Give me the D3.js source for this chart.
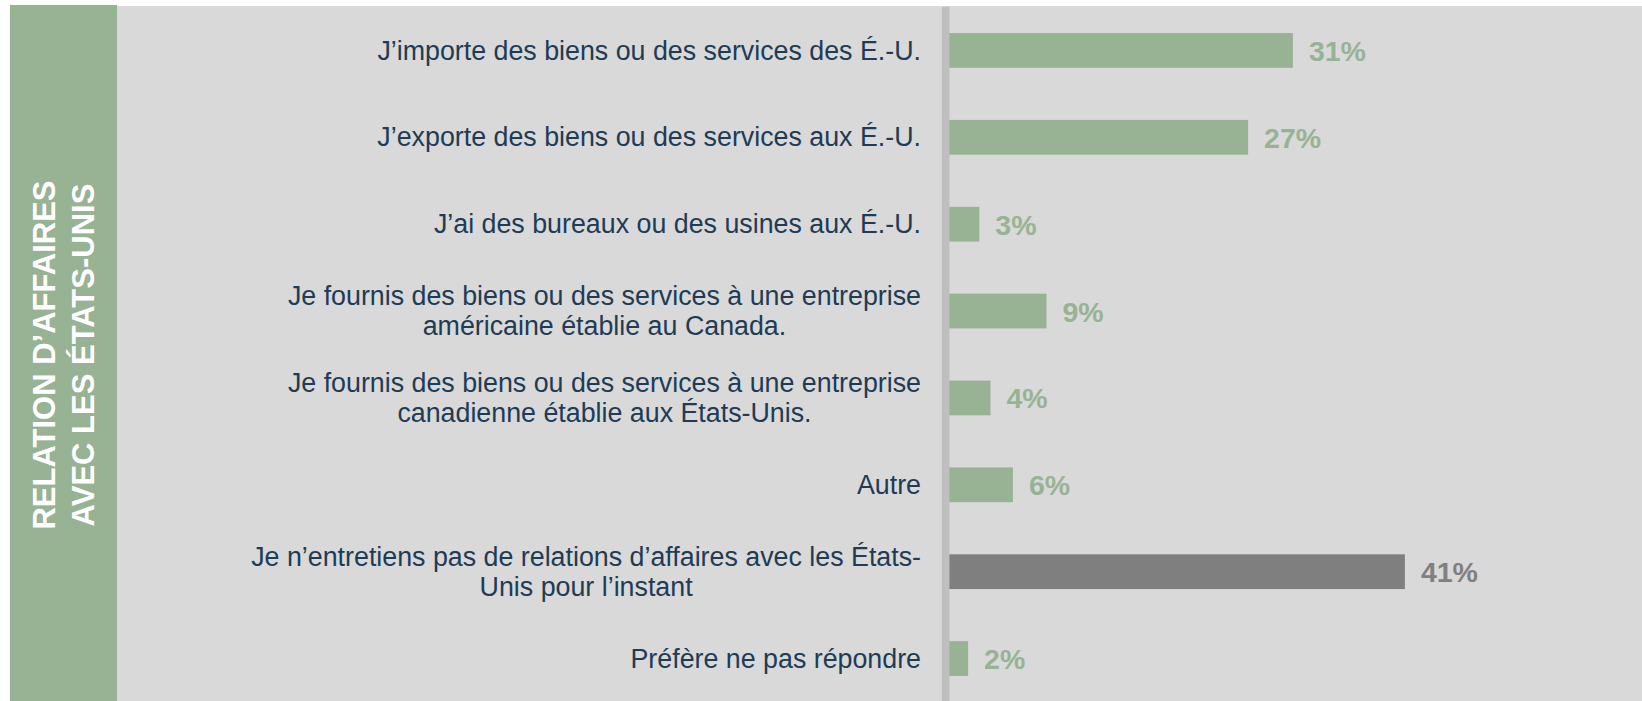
<!DOCTYPE html>
<html lang="fr">
<head>
<meta charset="utf-8">
<script src="https://cdn.jsdelivr.net/npm/d3@7"></script>
<style>
  html, body { margin: 0; padding: 0; background: #fff; }
  svg { display: block; }
</style>
</head>
<body>
<div id="chart"></div>
<script>
(() => {
  const width = 1642;
  const height = 701;

  // catégories (les retours à la ligne suivent l'original)
  const categories = [
    ["J’importe des biens ou des services des É.-U."],
    ["J’exporte des biens ou des services aux É.-U."],
    ["J’ai des bureaux ou des usines aux É.-U."],
    ["Je fournis des biens ou des services à une entreprise", "américaine établie au Canada."],
    ["Je fournis des biens ou des services à une entreprise", "canadienne établie aux États-Unis."],
    ["Autre"],
    ["Je n’entretiens pas de relations d’affaires avec les États-", "Unis pour l’instant"],
    ["Préfère ne pas répondre"]
  ];
  const values = [31, 27, 3, 9, 4, 6, 41, 2];
  const groups = ["oui", "oui", "oui", "oui", "oui", "oui", "non", "oui"];
  const panelTitle = ["RELATION D’AFFAIRES", "AVEC LES ÉTATS-UNIS"];

  const green = "#97b394";
  const grey = "#7f7f7f";
  const ink = "#203b54";
  const color = d3.scaleOrdinal().domain(["oui", "non"]).range([green, grey]);

  const rows = categories.map((c, i) => ({ key: i, lines: c, value: values[i], group: groups[i] }));

  const svg = d3.select("#chart")
    .append("svg")
    .attr("width", width)
    .attr("height", height)
    .attr("viewBox", `0 0 ${width} ${height}`);

  // fonds
  svg.append("rect")
    .attr("x", 117).attr("y", 6)
    .attr("width", width - 117).attr("height", height - 6)
    .attr("fill", "#d9d9d9");

  svg.append("rect")
    .attr("x", 10).attr("y", 5)
    .attr("width", 107).attr("height", height - 5)
    .attr("fill", green);

  // titre vertical
  svg.append("text")
    .attr("transform", `translate(63.5, 355) rotate(-90)`)
    .attr("text-anchor", "middle")
    .attr("font-family", "Liberation Sans, Arial, sans-serif")
    .attr("font-weight", "bold")
    .attr("font-size", 31)
    .attr("fill", "#fff")
    .selectAll("tspan")
    .data(panelTitle)
    .join("tspan")
    .attr("x", 0)
    .attr("y", (d, i) => (i - 0.5) * 39 + 11)
    .text(d => d);

  const x = d3.scaleLinear().domain([0, 50]).range([945.7, 945.7 + 560]);
  const y = d3.scaleBand()
    .domain(rows.map(d => d.key))
    .range([7, 702])
    .paddingInner(0.6)
    .paddingOuter(0.3);

  // barres
  svg.append("g")
    .selectAll("rect")
    .data(rows)
    .join("rect")
    .attr("x", x(0))
    .attr("y", d => y(d.key))
    .attr("width", d => x(d.value) - x(0))
    .attr("height", y.bandwidth())
    .attr("fill", d => color(d.group));

  // valeurs
  svg.append("g")
    .attr("font-family", "Liberation Sans, Arial, sans-serif")
    .attr("font-weight", "bold")
    .attr("font-size", 28.5)
    .selectAll("text")
    .data(rows)
    .join("text")
    .attr("x", d => x(d.value) + 16)
    .attr("y", d => y(d.key) + y.bandwidth() / 2)
    .attr("dy", "0.37em")
    .attr("fill", d => d.group === "non" ? "#808080" : green)
    .text(d => `${d.value}%`);

  // libellés des catégories
  const labelRight = 921;
  const lineH = 30;
  const fs = 26.8;
  const label = svg.append("g")
    .attr("font-family", "Liberation Sans, Arial, sans-serif")
    .attr("font-size", fs)
    .attr("fill", ink)
    .selectAll("text")
    .data(rows)
    .join("text")
    .attr("y", d => y(d.key) + y.bandwidth() / 2);

  label.each(function (d) {
    const t = d3.select(this);
    const n = d.lines.length;
    const spans = t.selectAll("tspan")
      .data(d.lines)
      .join("tspan")
      .attr("dy", (l, i) => i === 0 ? `${0.34 - (n - 1) * lineH / 2 / fs}em` : lineH)
      .text(l => l);
    if (n === 1) {
      t.attr("text-anchor", "end");
      spans.attr("x", labelRight);
    } else {
      // bloc aligné à droite, lignes centrées entre elles
      let maxW = 0;
      spans.each(function () { maxW = Math.max(maxW, this.getComputedTextLength()); });
      t.attr("text-anchor", "middle");
      spans.attr("x", labelRight - maxW / 2);
    }
  });

  // axe vertical
  svg.append("line")
    .attr("x1", x(0)).attr("x2", x(0))
    .attr("y1", 6.7).attr("y2", height)
    .attr("stroke", "#bfbfbf")
    .attr("stroke-width", 7.5);
})();
</script>
</body>
</html>
